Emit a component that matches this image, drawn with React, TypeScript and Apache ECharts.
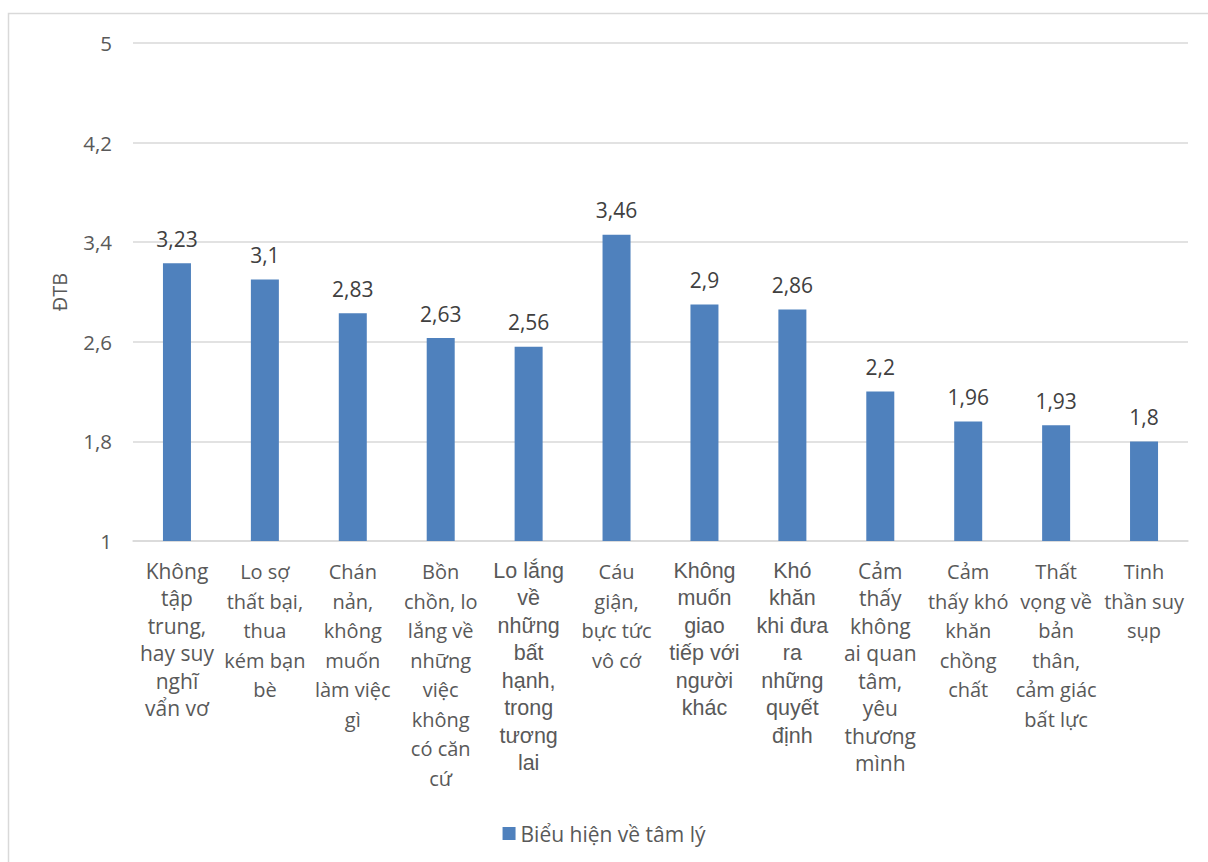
import React, { useEffect, useRef } from "react";
import * as echarts from "echarts";

const categories: string[] = [
  "Không\ntập\ntrung,\nhay suy\nnghĩ\nvẩn vơ",
  "Lo sợ\nthất bại,\nthua\nkém bạn\nbè",
  "Chán\nnản,\nkhông\nmuốn\nlàm việc\ngì",
  "Bồn\nchồn, lo\nlắng về\nnhững\nviệc\nkhông\ncó căn\ncứ",
  "Lo lắng\nvề\nnhững\nbất\nhạnh,\ntrong\ntương\nlai",
  "Cáu\ngiận,\nbực tức\nvô cớ",
  "Không\nmuốn\ngiao\ntiếp với\nngười\nkhác",
  "Khó\nkhăn\nkhi đưa\nra\nnhững\nquyết\nđịnh",
  "Cảm\nthấy\nkhông\nai quan\ntâm,\nyêu\nthương\nmình",
  "Cảm\nthấy khó\nkhăn\nchồng\nchất",
  "Thất\nvọng về\nbản\nthân,\ncảm giác\nbất lực",
  "Tinh\nthần suy\nsụp",
];
const labelStyles: string[] = [
  "big", "small", "small", "small", "arial", "small", "arial", "arial", "big", "small", "small", "small",
];
const values: number[] = [3.23, 3.1, 2.83, 2.63, 2.56, 3.46, 2.9, 2.86, 2.2, 1.96, 1.93, 1.8];
const seriesName = "Biểu hiện về tâm lý";
const yAxisName = "ĐTB";

const fmt = (v: number) => String(v).replace(".", ",");

export default function App() {
  const ref = useRef<HTMLDivElement>(null);
  useEffect(() => {
    if (!ref.current) return;
    const chart = echarts.init(ref.current, null, { renderer: "svg" });
    chart.setOption({
      animation: false,
      backgroundColor: "#ffffff",
      graphic: [
        {
          type: "rect",
          shape: { x: 8.5, y: 13.5, width: 1400, height: 1000 },
          style: { fill: "none", stroke: "#d9d9d9", lineWidth: 1.5 },
          silent: true,
        },
      ],
      grid: { left: 133, right: 20, top: 43, bottom: 321 },
      legend: {
        top: 818,
        left: "center",
        itemWidth: 13,
        itemHeight: 13,
        itemGap: 8,
        icon: "rect",
        textStyle: { fontFamily: "Open Sans", fontSize: 21, color: "#595959" },
        data: [seriesName],
      },
      xAxis: {
        type: "category",
        data: categories,
        axisLine: { show: true, lineStyle: { color: "#d9d9d9", width: 1.5 } },
        axisTick: { show: false },
        axisLabel: {
          interval: 0,
          margin: 16,
          verticalAlign: "top",
          formatter: (v: string, i: number) => `{${labelStyles[i]}|${v}}`,
          rich: {
            big: { fontFamily: "Open Sans", fontSize: 21, lineHeight: 27.5, color: "#595959", align: "center" },
            arial: { fontFamily: "Liberation Sans", fontSize: 21.5, lineHeight: 27.5, color: "#595959", align: "center" },
            small: { fontFamily: "Open Sans", fontSize: 20, lineHeight: 29.5, color: "#595959", align: "center" },
          },
        },
      },
      yAxis: {
        type: "value",
        min: 1,
        max: 5,
        interval: 0.8,
        name: yAxisName,
        nameLocation: "middle",
        nameGap: 64,
        nameRotate: 90,
        nameTextStyle: { fontFamily: "Open Sans", fontSize: 20, color: "#595959" },
        axisLine: { show: false },
        axisTick: { show: false },
        splitLine: { lineStyle: { color: "#d9d9d9", width: 1.5 } },
        axisLabel: {
          margin: 21,
          fontFamily: "Open Sans",
          fontSize: 20.5,
          color: "#595959",
          formatter: (v: number) => fmt(Math.round(v * 10) / 10),
        },
      },
      series: [
        {
          name: seriesName,
          type: "bar",
          data: values,
          barWidth: 28,
          itemStyle: { color: "#4f81bd" },
          label: {
            show: true,
            position: "top",
            distance: 14,
            fontFamily: "Open Sans",
            fontSize: 21,
            color: "#404040",
            formatter: (p: any) => fmt(p.value),
          },
        },
      ],
    });
    return () => chart.dispose();
  }, []);
  return (
    <div
      ref={ref}
      style={{ position: "fixed", left: 0, top: 0, width: 1208, height: 862 }}
    />
  );
}
